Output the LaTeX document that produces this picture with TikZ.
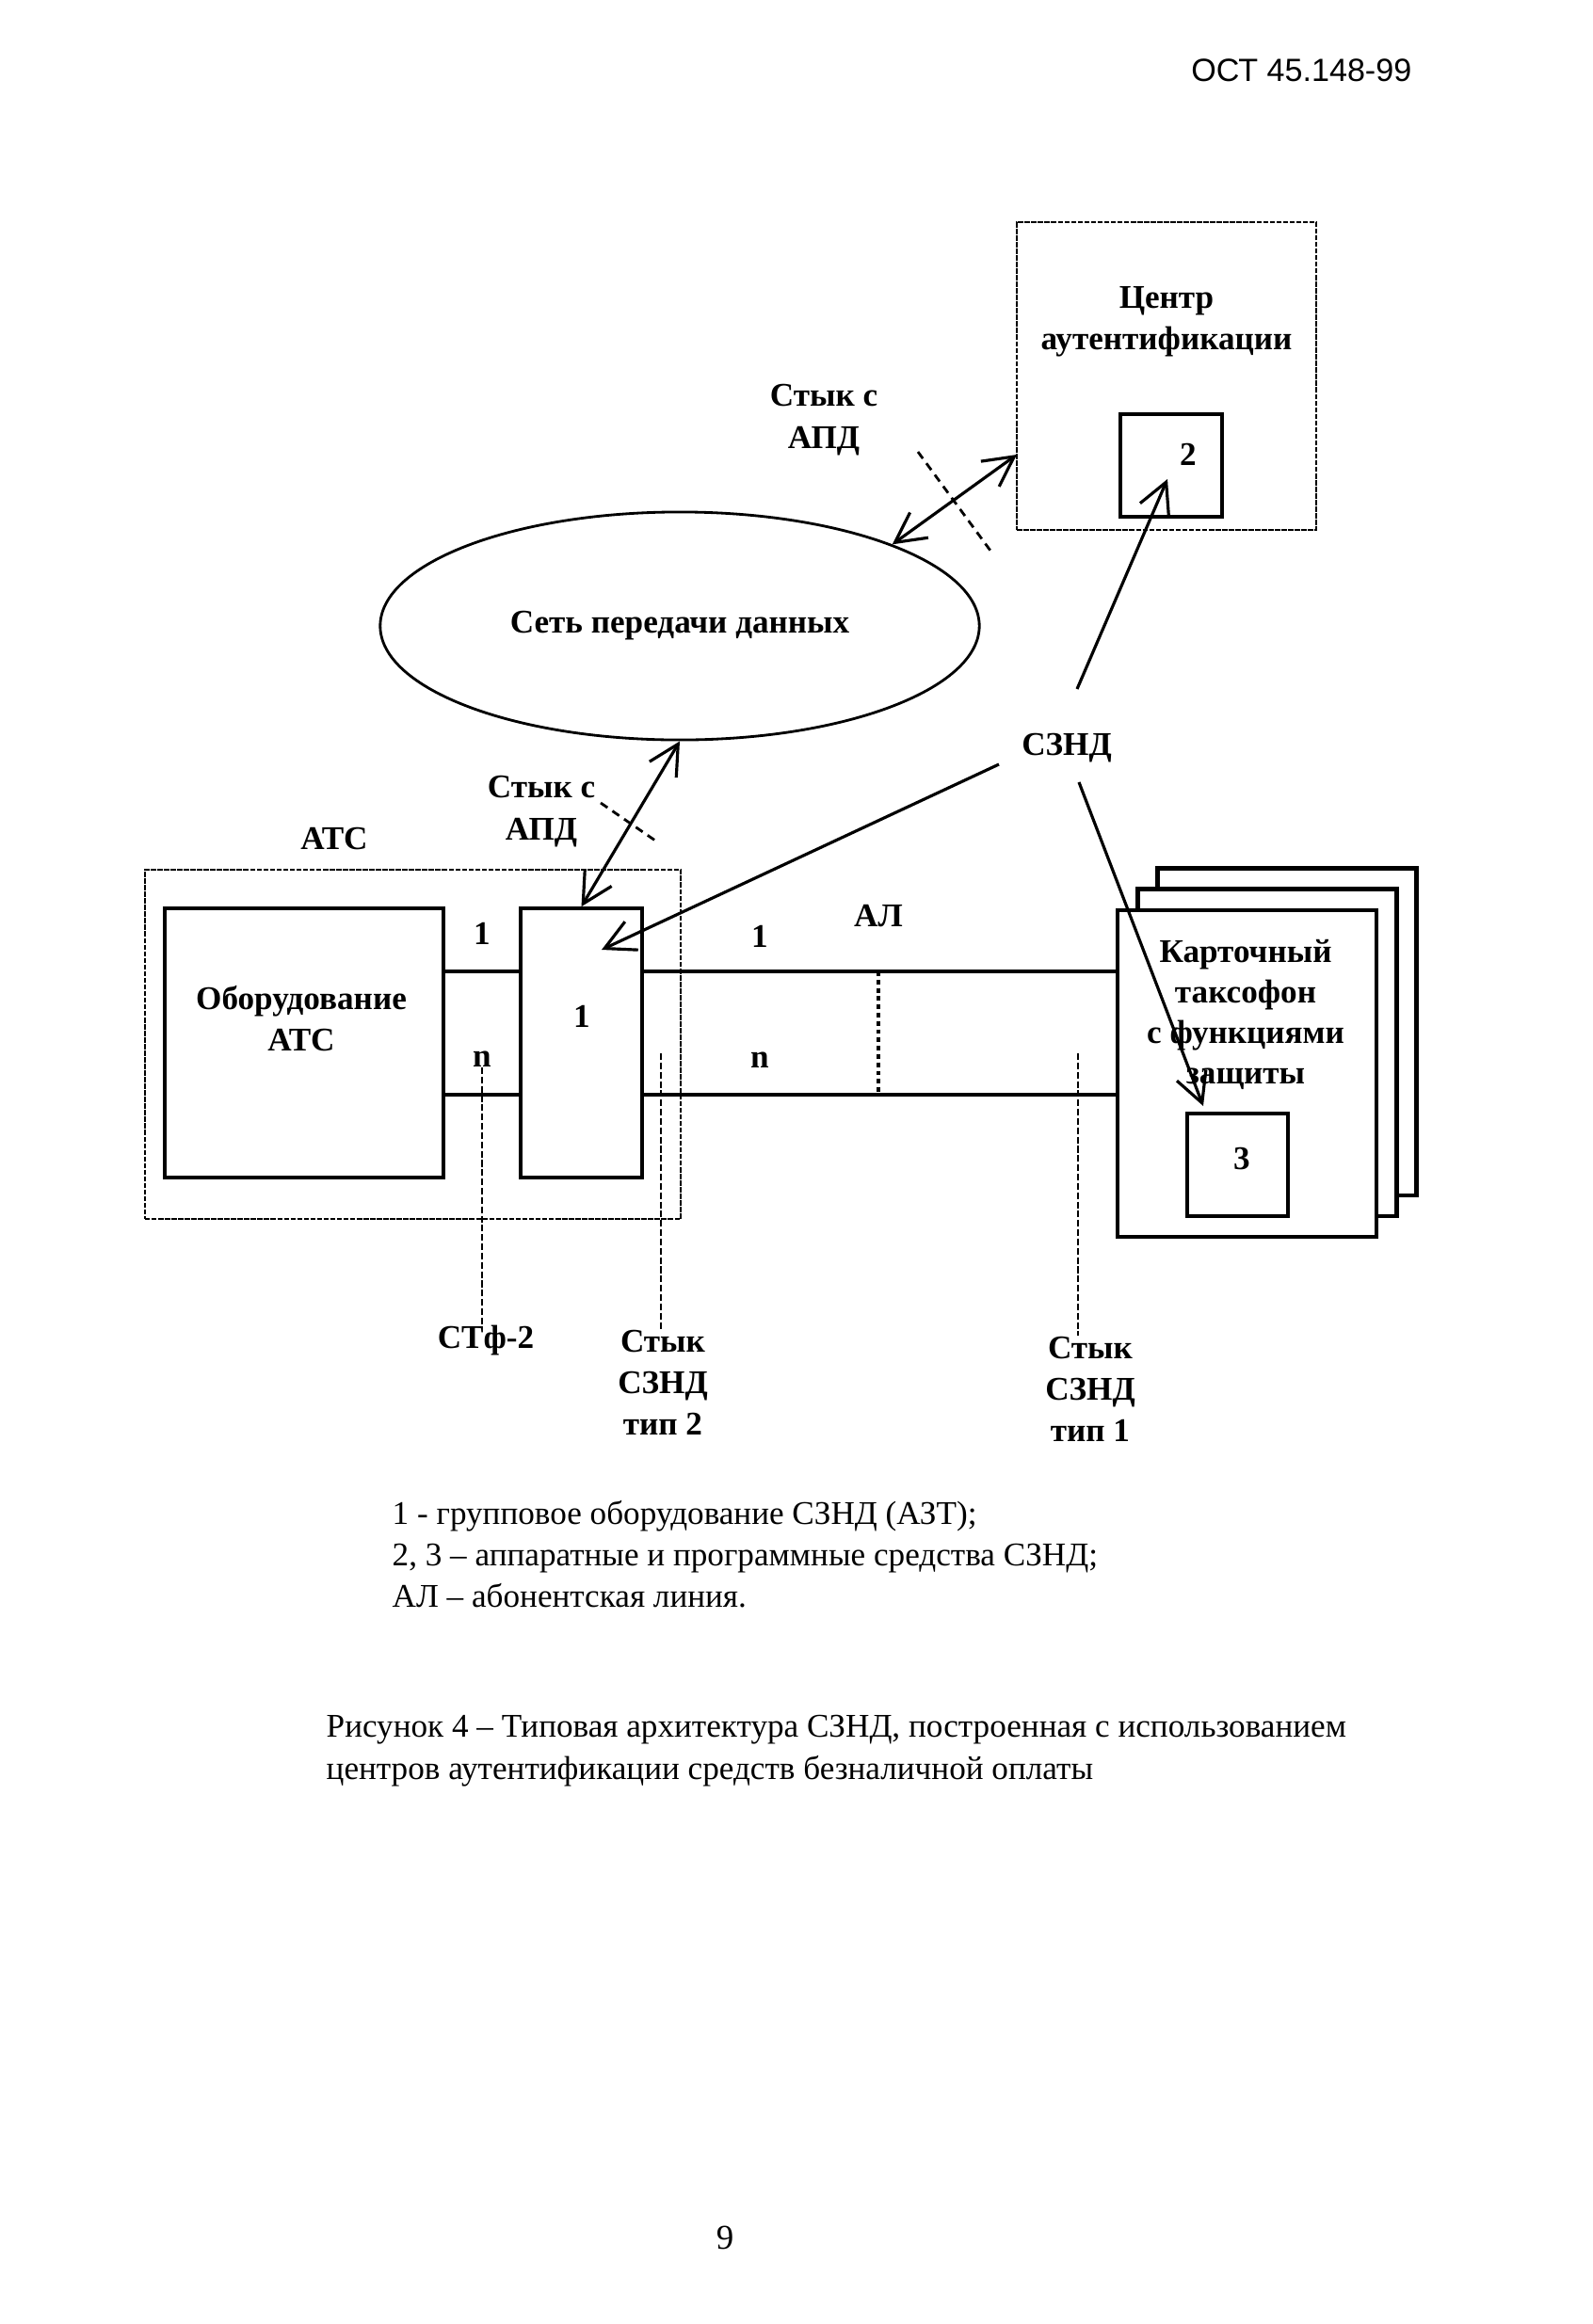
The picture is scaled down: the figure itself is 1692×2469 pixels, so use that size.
\documentclass[tikz,border=0pt]{standalone}
\usepackage{fontspec}
\setmainfont{Liberation Serif}
\newfontfamily\hdrfont{Liberation Sans}
\usetikzlibrary{arrows.meta,shapes.geometric}
\tikzset{
  lbl/.style={font=\fontsize{10}{12.6}\selectfont\bfseries, align=center, inner sep=0pt},
  solidbox/.style={draw, line width=1pt, inner sep=0pt},
  dotbox/.style={draw, line width=0.6pt, dash pattern=on 1.6pt off 0.4pt, inner sep=0pt},
  arr/.style={line width=0.9pt, -{Straight Barb[length=9pt,width=9.4pt]}},
  darr/.style={line width=0.9pt, {Straight Barb[length=9pt,width=9.4pt]}-{Straight Barb[length=9pt,width=9.4pt]}},
  crossdash/.style={line width=0.8pt, dash pattern=on 2.5pt off 1.8pt},
  vdash/.style={line width=0.6pt, dash pattern=on 2pt off 0.8pt},
  wire/.style={line width=1pt},
  thickdot/.style={line width=1.4pt, dash pattern=on 1.4pt off 1.1pt},
  plain/.style={font=\fontsize{10}{12.5}\selectfont, align=left, inner sep=0pt, anchor=west}
}
\begin{document}
\begin{tikzpicture}[x=0.01cm,y=-0.01cm]
\fill[white] (0,0) rectangle (1692,2469);
\useasboundingbox (0,0) rectangle (1692,2469);

% header
\node[anchor=east, inner sep=0pt, font=\hdrfont\fontsize{9.7}{12}\selectfont] (hdr) at (1500,75) {ОСТ 45.148-99};

% authentication centre
\node[dotbox, minimum width=3.18cm, minimum height=3.27cm] (auth) at (1239,399.5) {};
\node[lbl] (authtxt) at (1239,342) {Центр\\аутентификации};
\node[solidbox, minimum width=1.08cm, minimum height=1.09cm] (box2) at (1244,494.5) {};
\node[lbl] (l2) at (1262,483) {2};

% upper interface label
\node[lbl] (apd1) at (875,446) {Стык с\\АПД};

% data network
\node[draw, ellipse, line width=0.8pt, minimum width=6.36cm, minimum height=2.42cm, inner sep=0pt,
      font=\fontsize{10}{12}\selectfont\bfseries] (net) at (722,665) {Сеть передачи данных};

% ATC
\node[lbl] (atc) at (355,891) {АТС};
\node[dotbox, minimum width=5.69cm, minimum height=3.71cm] (atcbox) at (438.5,1109.5) {};
\node[solidbox, minimum width=2.96cm, minimum height=2.86cm] (equip) at (323,1108) {};
\node[lbl] (equiptxt) at (320,1082) {Оборудование\\АТС};
\node[solidbox, minimum width=1.29cm, minimum height=2.86cm] (box1) at (617.5,1108) {};
\node[lbl] (l1) at (618,1080) {1};
\node[lbl] (n1a) at (512,992) {1};
\node[lbl] (nna) at (512,1125) {n};

% lower interface label
\node[lbl] (apd2) at (575,862) {Стык с\\АПД};

% subscriber line labels
\node[lbl] (n1b) at (807,995) {1};
\node[lbl] (nnb) at (807,1126) {n};
\node[lbl] (al) at (933,973) {АЛ};

% SZND label
\node[lbl] (sznd) at (1133,795) {СЗНД};

% payphone stack
\node[solidbox, fill=white, line width=1.2pt, minimum width=2.75cm, minimum height=3.47cm] (tback) at (1367,1096) {};
\node[solidbox, fill=white, line width=1.2pt, minimum width=2.75cm, minimum height=3.47cm] (tmid) at (1346,1118) {};
\node[solidbox, fill=white, minimum width=2.75cm, minimum height=3.47cm] (tfront) at (1324.5,1140.5) {};
\node[lbl, font=\fontsize{10}{12.2}\selectfont\bfseries] (ttxt) at (1323,1078) {Карточный\\таксофон\\с функциями\\защиты};
\node[solidbox, minimum width=1.07cm, minimum height=1.09cm] (box3) at (1314.5,1237.5) {};
\node[lbl] (l3) at (1319,1231) {3};

% wires
\draw[wire] (equip.east |- 0,1032) -- (box1.west |- 0,1032);
\draw[wire] (equip.east |- 0,1163) -- (box1.west |- 0,1163);
\draw[wire] (box1.east |- 0,1032) -- (tfront.west |- 0,1032);
\draw[wire] (box1.east |- 0,1163) -- (tfront.west |- 0,1163);
\coordinate (dt) at (933,1032);
\coordinate (db) at (933,1163);
\draw[thickdot] (dt) -- (db);

% bottom labels
\node[lbl] (stf) at (516,1424) {СТф-2};
\node[lbl] (st2) at (704,1469) {Стык\\СЗНД\\тип 2};
\node[lbl] (st1) at (1158,1476) {Стык\\СЗНД\\тип 1};

% vertical dashed interface lines
\draw[vdash] (nna.south) -- (nna.south |- stf.north);
\coordinate (v2t) at (702,1119);
\draw[vdash] (v2t) -- (v2t |- st2.north);
\coordinate (v3t) at (1145,1119);
\draw[vdash] (v3t) -- (v3t |- st1.north);

% arrows net <-> auth
\coordinate (aIn) at (1080,483);
\draw[darr] (net.21) -- (aIn);
\coordinate (cA1) at (975,480);
\coordinate (cA2) at (1052,585);
\draw[crossdash] (cA1) -- (cA2);

% arrows net <-> box1
\draw[darr] (net.south) -- (box1.north);
\coordinate (cB1) at (638,853);
\coordinate (cB2) at (696,893);
\draw[crossdash] (cB1) -- (cB2);

% SZND arrows
\coordinate (s1) at (1144,732);
\coordinate (s1h) at (1240,509);
\draw[arr] (s1) -- (s1h);
\coordinate (s2) at (1061,812);
\coordinate (s2h) at (639,1009);
\draw[arr] (s2) -- (s2h);
\coordinate (s3) at (1146,831);
\coordinate (s3h) at (1278,1175);
\draw[arr] (s3) -- (s3h);

% legend
\node[plain] (legend) at (416,1651) {1 - групповое оборудование СЗНД (АЗТ);\\2, 3 – аппаратные и программные средства СЗНД;\\АЛ – абонентская линия.};

% caption
\node[plain, font=\fontsize{10}{12.8}\selectfont] (caption) at (346,1860) {Рисунок 4 – Типовая архитектура СЗНД, построенная с использованием\\центров аутентификации средств безналичной оплаты};

% page number
\node[inner sep=0pt, font=\fontsize{10.5}{12}\selectfont] (pg) at (770,2377) {9};
\end{tikzpicture}
\end{document}
